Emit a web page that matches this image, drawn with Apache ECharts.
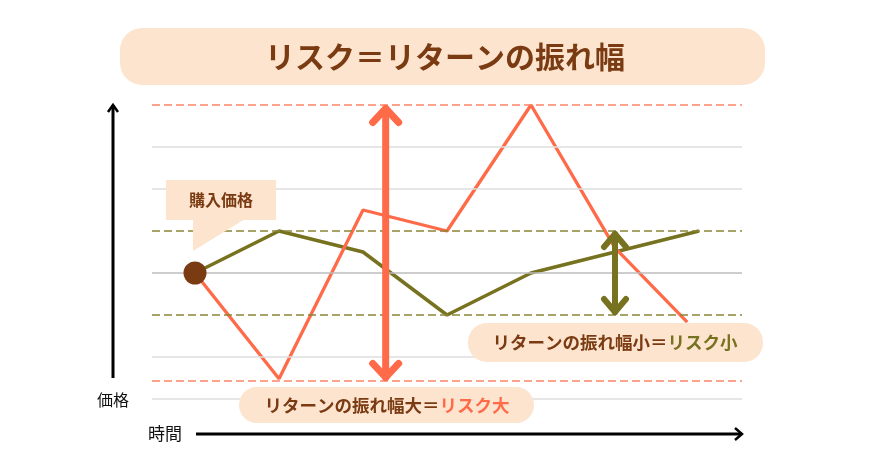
<!DOCTYPE html>
<html><head><meta charset="utf-8">
<script src="https://cdn.jsdelivr.net/npm/echarts@6/dist/echarts.min.js"></script>
<style>html,body{margin:0;padding:0;background:#fff}#c{width:886px;height:465px}</style>
</head><body><div id="c"></div>
<script>
// ---- data ----
const highRiskX = [0, 1, 2, 3, 4, 5, 5.86];
const highRiskY = [0, -2.52, 1.5, 1.0, 4.0, 0.6, -1.17];
const lowRiskX = [0, 1, 2, 3, 4, 5, 6];
const lowRiskY = [0, 1.0, 0.5, -1.0, 0, 0.5, 1.0];
const grayLevels = [3, 2, -2, -3];
const baseLevel = [0];
const highBand = [4, -2.57];
const lowBand = [1, -1];
const bigArrow = [2.27, -2.57, 4];   // x, low, high
const smallArrow = [5, -1, 1];
const purchase = [0, 0];
const titleText = 'リスク＝リターンの振れ幅';

const RED = '#ff6a48', OLIVE = '#77721f', BROWN = '#7a3b12', PEACH = '#fde4cf';
const FONT = '"Noto Sans CJK JP", sans-serif';

function zip(xs, ys){ return xs.map((x,i)=>[x, ys[i]]); }

const markLines = [];
grayLevels.forEach(v => markLines.push({yAxis: v, lineStyle:{color:'#dedede', width:1.5, type:'solid'}}));
baseLevel.forEach(v => markLines.push({yAxis: v, lineStyle:{color:'#bdbdbd', width:1.5, type:'solid'}}));
highBand.forEach(v => markLines.push({yAxis: v, lineStyle:{color:'#ff8466', width:1.5, type:[8,4]}}));
lowBand.forEach(v => markLines.push({yAxis: v, lineStyle:{color:'#8a8538', width:1.5, type:[8,4]}}));

function arrowItem(params, api){
  const x = api.value(0), lo = api.value(1), hi = api.value(2);
  const big = params.dataIndex === 0;
  const col = big ? RED : OLIVE;
  const lw = big ? 7 : 6;
  const hw = big ? 13 : 11, hh = big ? 14 : 13;
  const inset = lw/2;
  const top = api.coord([x, hi]), bot = api.coord([x, lo]);
  const tY = top[1] + inset, bY = bot[1] - inset, cx = top[0];
  const st = {stroke: col, lineWidth: lw, lineCap:'round', lineJoin:'round', fill:null};
  return {type:'group', children:[
    {type:'line', shape:{x1:cx, y1:tY, x2:cx, y2:bY}, style: st},
    {type:'polyline', shape:{points:[[cx-hw, tY+hh],[cx, tY],[cx+hw, tY+hh]]}, style: st},
    {type:'polyline', shape:{points:[[cx-hw, bY-hh],[cx, bY],[cx+hw, bY-hh]]}, style: st}
  ]};
}

const chart = echarts.init(document.getElementById('c'), null, {renderer:'canvas'});
chart.setOption({
  backgroundColor:'#fff',
  animation:false,
  grid:{left:152, right:144, top:105, bottom:66},
  xAxis:{type:'value', min:-0.512, max:6.512, show:false},
  yAxis:{type:'value', min:-3, max:4, show:false},
  series:[
    {type:'line', data:[], silent:true, markLine:{silent:true, symbol:'none', label:{show:false}, data: markLines}, z:1},
    {type:'line', data: zip(lowRiskX, lowRiskY), symbol:'none', lineStyle:{color:OLIVE, width:3.5}, z:3},
    {type:'line', data: zip(highRiskX, highRiskY), symbol:'none', lineStyle:{color:RED, width:3.3}, z:4},
    {type:'custom', data:[bigArrow, smallArrow], renderItem: arrowItem, z:5},
    {type:'scatter', data:[purchase], symbolSize:23, itemStyle:{color:BROWN, opacity:1}, z:6}
  ],
  graphic:[
    // title
    {type:'rect', shape:{x:120, y:28, width:645, height:57, r:22}, style:{fill:PEACH}, z:10},
    {type:'text', x:445, y:57, style:{text:titleText, font:'bold 30px '+FONT, fill:BROWN, textAlign:'center', textVerticalAlign:'middle'}, z:11},
    // axes arrows
    {type:'polyline', shape:{points:[[113,378],[113,105]]}, style:{stroke:'#000', lineWidth:3, fill:null}, z:10},
    {type:'polyline', shape:{points:[[108,112],[113,105],[118,112]]}, style:{stroke:'#000', lineWidth:2.5, fill:null}, z:10},
    {type:'polyline', shape:{points:[[196,434],[741,434]]}, style:{stroke:'#000', lineWidth:3, fill:null}, z:10},
    {type:'polyline', shape:{points:[[735,428],[742,434],[735,440]]}, style:{stroke:'#000', lineWidth:2.5, fill:null}, z:10},
    {type:'text', x:113, y:400, style:{text:'価格', font:'16px '+FONT, fill:'#111', textAlign:'center', textVerticalAlign:'middle'}, z:10},
    {type:'text', x:165, y:434, style:{text:'時間', font:'17px '+FONT, fill:'#111', textAlign:'center', textVerticalAlign:'middle'}, z:10},
    // speech bubble
    {type:'rect', shape:{x:166, y:180, width:110, height:40}, style:{fill:PEACH}, z:10},
    {type:'polygon', shape:{points:[[193,219],[193,251],[245,219]]}, style:{fill:PEACH}, z:10},
    {type:'text', x:221, y:200, style:{text:'購入価格', font:'bold 16px '+FONT, fill:BROWN, textAlign:'center', textVerticalAlign:'middle'}, z:11},
    // big label
    {type:'rect', shape:{x:239, y:387, width:295, height:36, r:18}, style:{fill:PEACH}, z:10},
    {type:'text', x:387, y:405, style:{text:'{a|リターンの振れ幅大＝}{b|リスク大}', textAlign:'center', textVerticalAlign:'middle',
      rich:{a:{font:'bold 17.5px '+FONT, fill:BROWN}, b:{font:'bold 17.5px '+FONT, fill:RED}}}, z:11},
    // small label
    {type:'rect', shape:{x:468, y:323, width:295, height:39, r:19}, style:{fill:PEACH}, z:10},
    {type:'text', x:615, y:342, style:{text:'{a|リターンの振れ幅小＝}{b|リスク小}', textAlign:'center', textVerticalAlign:'middle',
      rich:{a:{font:'bold 17.5px '+FONT, fill:BROWN}, b:{font:'bold 17.5px '+FONT, fill:OLIVE}}}, z:11}
  ]
});
</script></body></html>
